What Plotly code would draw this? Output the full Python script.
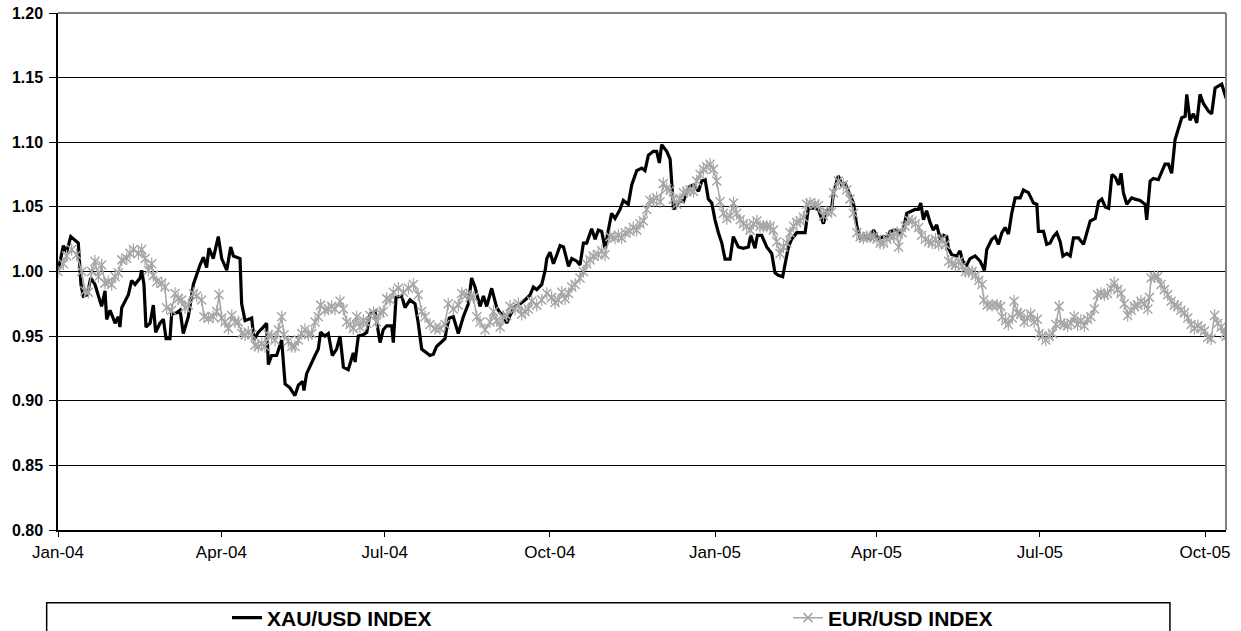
import pandas as pd
import plotly.graph_objects as go

# ---- data (day offsets from 2004-01-01, index values) ----
START = "2004-01-01"
x_range_end = "2005-10-12 16:00"

xau_days = [0, 3.0, 4.8, 7.1, 11.3, 12.8, 14.1, 16.3, 18.2, 20.6, 24.3, 26.2, 27.1, 29.0, 31.8, 33.6, 34.5, 35.5,
            39.2, 41.0, 42.9, 45.7, 46.6, 47.9, 49.0, 51.3, 53.1, 54.4, 56.8, 58.7, 60.2, 62.4, 63.3, 66.1, 68.0,
            69.8, 72.6, 75.4, 79.1, 81.0, 82.8, 84.1, 86.5, 89.3, 91.2, 94.0, 96.2, 97.7, 101.4, 102.3, 104.2,
            107.9, 109.2, 111.6, 114.4, 116.2, 117.2, 119.0, 121.8, 124.6, 126.5, 129.2, 132.0, 133.9, 136.3,
            137.0, 138.5, 140.4, 143.2, 145.0, 146.3, 148.7, 150.6, 152.8, 155.2, 157.1, 159.0, 161.7, 164.5,
            165.5, 167.3, 170.1, 172.0, 173.8, 176.6, 179.4, 181.2, 183.1, 185.9, 186.8, 188.3, 191.5, 193.3,
            196.1, 198.9, 200.7, 202.6, 207.2, 209.1, 210.9, 213.7, 215.6, 216.5, 218.0, 220.2, 223.0, 225.8,
            228.6, 230.4, 232.3, 235.1, 237.0, 238.8, 241.6, 244.4, 246.3, 248.1, 250.0, 251.8, 254.6, 257.4,
            260.2, 263.0, 264.8, 266.7, 269.5, 271.4, 272.3, 274.1, 276.0, 277.9, 279.7, 281.6, 284.4, 286.2,
            289.0, 290.8, 292.7, 294.5, 297.3, 299.2, 301.0, 302.9, 304.7, 306.6, 308.4, 310.3, 313.1, 314.9,
            317.7, 319.6, 322.4, 325.2, 327.0, 328.9, 331.7, 333.5, 335.0, 336.3, 339.1, 341.0, 341.9, 342.9,
            344.7, 346.5, 348.4, 350.3, 352.1, 354.0, 356.8, 358.6, 360.5, 362.3, 364.2, 366.0, 367.9, 369.8,
            371.6, 374.4, 376.2, 379.0, 381.8, 384.6, 385.9, 388.3, 389.6, 392.0, 394.8, 397.6, 399.4, 401.3,
            403.7, 405.0, 406.9, 408.7, 411.5, 416.2, 418.0, 421.7, 423.6, 426.4, 428.2, 431.0, 432.0, 434.7,
            436.6, 438.5, 440.3, 443.1, 445.0, 446.9, 449.7, 452.5, 454.3, 457.1, 459.9, 461.8, 463.6, 466.4,
            469.1, 470.9, 472.8, 474.6, 477.4, 479.3, 480.6, 482.1, 483.9, 485.8, 487.6, 489.5, 491.3, 493.2,
            495.1, 496.0, 497.9, 500.7, 502.5, 504.0, 506.2, 508.1, 510.9, 513.7, 516.1, 517.4, 520.2, 522.1,
            523.9, 525.8, 527.6, 529.5, 531.3, 533.2, 536.0, 537.8, 540.6, 543.4, 545.3, 546.2, 549.0, 550.8,
            552.7, 554.5, 556.4, 558.3, 559.8, 562.0, 563.9, 565.7, 568.5, 571.3, 573.2, 575.0, 577.8, 579.7,
            581.5, 583.4, 585.3, 587.1, 589.0, 590.9, 592.2, 593.5, 595.4, 598.1, 600.0, 602.8, 605.6, 606.5,
            608.4, 610.2, 613.0, 614.9, 616.7, 618.6, 620.4, 622.3, 624.1, 626.0, 627.9, 628.8, 630.6, 632.5,
            634.4, 636.2, 638.1, 640.9, 642.7, 644.6, 648.3, 650.2, 650.7]
xau_vals = [1.000, 1.020, 1.015, 1.027, 1.022, 0.990, 0.981, 0.982, 0.995, 0.990, 0.973, 0.985, 0.963, 0.970,
            0.960, 0.965, 0.957, 0.972, 0.982, 0.993, 0.990, 0.995, 1.001, 0.990, 0.957, 0.960, 0.974, 0.953,
            0.960, 0.963, 0.948, 0.948, 0.967, 0.968, 0.970, 0.952, 0.965, 0.990, 1.005, 1.011, 1.003, 1.018,
            1.010, 1.027, 1.010, 1.001, 1.019, 1.012, 1.010, 0.975, 0.962, 0.964, 0.947, 0.953, 0.957, 0.960,
            0.928, 0.935, 0.935, 0.947, 0.913, 0.910, 0.904, 0.912, 0.915, 0.908, 0.921, 0.927, 0.935, 0.940,
            0.953, 0.950, 0.952, 0.935, 0.940, 0.950, 0.926, 0.924, 0.937, 0.930, 0.950, 0.951, 0.953, 0.967,
            0.969, 0.945, 0.955, 0.958, 0.958, 0.945, 0.980, 0.981, 0.972, 0.978, 0.975, 0.960, 0.940, 0.935,
            0.936, 0.942, 0.946, 0.948, 0.956, 0.964, 0.965, 0.952, 0.965, 0.975, 0.995, 0.988, 0.973, 0.981,
            0.973, 0.987, 0.972, 0.968, 0.966, 0.960, 0.966, 0.973, 0.975, 0.978, 0.982, 0.988, 0.986, 0.990,
            1.001, 1.010, 1.015, 1.006, 1.013, 1.020, 1.019, 1.004, 1.010, 1.008, 1.005, 1.022, 1.022, 1.033,
            1.025, 1.032, 1.031, 1.018, 1.032, 1.045, 1.041, 1.048, 1.055, 1.052, 1.067, 1.078, 1.080, 1.078,
            1.090, 1.093, 1.093, 1.084, 1.098, 1.093, 1.087, 1.066, 1.048, 1.052, 1.055, 1.054, 1.062, 1.066,
            1.067, 1.062, 1.070, 1.071, 1.056, 1.053, 1.040, 1.030, 1.022, 1.0095, 1.0095, 1.027, 1.019, 1.018,
            1.019, 1.028, 1.018, 1.028, 1.028, 1.019, 1.014, 0.999, 0.997, 0.996, 1.006, 1.019, 1.025, 1.030,
            1.030, 1.049, 1.049, 1.048, 1.037, 1.047, 1.049, 1.061, 1.074, 1.067, 1.068, 1.062, 1.053, 1.035,
            1.026, 1.027, 1.025, 1.032, 1.025, 1.027, 1.026, 1.031, 1.032, 1.030, 1.032, 1.045, 1.046, 1.048,
            1.048, 1.053, 1.040, 1.047, 1.038, 1.032, 1.036, 1.026, 1.028, 1.027, 1.018, 1.013, 1.012, 1.016,
            1.008, 1.005, 1.010, 1.012, 1.008, 1.001, 1.017, 1.025, 1.027, 1.021, 1.030, 1.034, 1.029, 1.045,
            1.057, 1.057, 1.063, 1.061, 1.053, 1.052, 1.031, 1.031, 1.021, 1.022, 1.027, 1.030, 1.023, 1.012,
            1.014, 1.012, 1.026, 1.026, 1.021, 1.031, 1.039, 1.041, 1.054, 1.056, 1.050, 1.049, 1.075, 1.073,
            1.067, 1.076, 1.061, 1.052, 1.057, 1.056, 1.055, 1.052, 1.040, 1.070, 1.072, 1.071, 1.078, 1.083,
            1.083, 1.076, 1.102, 1.111, 1.119, 1.120, 1.137, 1.117, 1.122, 1.115, 1.137, 1.130, 1.124, 1.122,
            1.142, 1.145, 1.135, 1.134]

eur_days = [0, 3.0, 4.8, 7.6, 10.4, 13.2, 15.0, 16.9, 18.8, 20.6, 22.5, 24.3, 26.2, 28.0, 29.9, 31.8, 33.6, 35.5,
            38.3, 40.1, 42.0, 44.8, 46.6, 48.5, 50.3, 52.2, 53.1, 55.0, 57.8, 59.6, 60.5, 63.3, 65.2, 67.0, 68.9,
            70.8, 72.6, 75.4, 77.3, 80.0, 81.3, 83.8, 86.5, 88.4, 89.7, 91.2, 93.0, 94.9, 96.8, 98.6, 100.5,
            102.3, 104.2, 106.0, 107.9, 109.7, 111.6, 113.5, 115.3, 117.2, 119.0, 120.9, 122.7, 124.6, 125.9,
            128.3, 130.2, 132.0, 133.9, 135.7, 137.6, 139.5, 141.3, 143.2, 145.0, 146.3, 148.7, 150.6, 152.5,
            154.3, 157.1, 159.0, 160.8, 162.7, 164.5, 166.4, 168.2, 170.1, 172.0, 173.8, 175.7, 177.5, 179.4,
            181.2, 183.1, 185.0, 186.8, 189.6, 192.4, 195.2, 198.0, 200.7, 202.6, 204.5, 207.2, 210.0, 212.8,
            215.6, 217.4, 220.2, 223.0, 224.9, 227.7, 229.5, 231.4, 233.3, 235.1, 237.9, 240.7, 242.6, 244.4,
            246.3, 248.1, 250.0, 251.8, 254.6, 256.5, 258.3, 260.2, 262.0, 263.9, 266.7, 269.5, 272.3, 275.0,
            276.9, 278.8, 280.6, 282.5, 284.4, 286.2, 288.1, 290.8, 292.7, 294.5, 296.4, 298.2, 301.0, 302.9,
            304.7, 307.5, 310.3, 312.2, 314.0, 315.9, 318.7, 320.5, 322.4, 324.2, 326.1, 328.0, 329.8, 331.7,
            333.5, 335.4, 337.2, 339.1, 341.0, 342.8, 344.7, 346.5, 348.4, 350.3, 352.1, 354.0, 355.8, 357.7,
            359.6, 361.4, 363.3, 365.1, 367.0, 368.8, 370.7, 372.6, 374.4, 376.3, 378.1, 380.0, 381.8, 383.7,
            385.5, 387.4, 389.3, 391.1, 393.0, 394.8, 396.7, 398.5, 400.4, 402.2, 404.1, 406.0, 407.8, 409.7,
            411.5, 413.4, 415.2, 417.1, 418.9, 421.7, 423.6, 426.4, 428.2, 431.0, 432.0, 434.7, 437.5, 439.4,
            441.2, 443.1, 445.0, 446.9, 448.7, 450.6, 452.5, 454.3, 456.2, 458.0, 459.9, 461.8, 463.6, 465.5,
            467.4, 468.3, 470.2, 472.0, 473.9, 475.8, 477.6, 479.5, 481.1, 483.2, 485.0, 486.9, 488.8, 490.6,
            492.5, 494.3, 496.2, 498.1, 499.9, 501.8, 503.6, 505.5, 507.3, 509.2, 511.1, 512.9, 514.8, 515.7,
            517.6, 520.4, 523.2, 525.1, 526.0, 527.9, 529.4, 531.6, 532.6, 534.4, 536.3, 538.2, 540.0, 541.9,
            543.8, 545.6, 546.6, 548.4, 550.3, 552.1, 554.0, 555.9, 557.7, 558.7, 560.5, 562.4, 564.3, 566.1,
            568.0, 569.8, 571.7, 573.6, 575.4, 577.3, 579.1, 581.0, 582.9, 584.7, 586.6, 588.4, 590.3, 592.2,
            594.0, 595.9, 597.8, 599.6, 601.5, 603.3, 605.2, 607.1, 608.0, 608.9, 610.8, 612.6, 614.5, 616.3,
            618.2, 620.1, 621.9, 623.8, 625.6, 627.5, 629.4, 631.2, 633.1, 635.0, 636.8, 638.7, 640.5, 642.4,
            644.3, 646.1, 648.0, 649.9, 650.7]
eur_vals = [1.000, 1.006, 1.012, 1.017, 1.013, 1.000, 0.985, 0.984, 1.000, 1.008, 0.996, 1.005, 0.991, 0.992,
            0.990, 0.996, 0.999, 1.009, 1.010, 1.014, 1.017, 1.014, 1.017, 1.010, 1.001, 1.006, 0.997, 0.992,
            0.991, 0.988, 0.972, 0.970, 0.983, 0.979, 0.978, 0.972, 0.974, 0.983, 0.981, 0.978, 0.965, 0.964,
            0.965, 0.969, 0.982, 0.964, 0.961, 0.956, 0.966, 0.961, 0.961, 0.952, 0.951, 0.953, 0.951, 0.943,
            0.942, 0.944, 0.942, 0.951, 0.950, 0.947, 0.955, 0.965, 0.951, 0.946, 0.942, 0.942, 0.947, 0.952,
            0.955, 0.951, 0.952, 0.961, 0.965, 0.974, 0.970, 0.971, 0.973, 0.971, 0.977, 0.971, 0.961, 0.959,
            0.956, 0.965, 0.957, 0.962, 0.960, 0.966, 0.968, 0.961, 0.968, 0.969, 0.979, 0.978, 0.984, 0.987,
            0.984, 0.987, 0.990, 0.982, 0.969, 0.965, 0.959, 0.956, 0.956, 0.959, 0.975, 0.971, 0.974, 0.983,
            0.982, 0.980, 0.980, 0.965, 0.961, 0.955, 0.961, 0.969, 0.962, 0.957, 0.965, 0.966, 0.973, 0.971,
            0.975, 0.967, 0.969, 0.971, 0.977, 0.974, 0.978, 0.983, 0.980, 0.976, 0.978, 0.984, 0.979, 0.983,
            0.988, 0.990, 0.995, 1.000, 1.006, 1.009, 1.012, 1.013, 1.016, 1.013, 1.027, 1.026, 1.028, 1.026,
            1.030, 1.031, 1.034, 1.032, 1.037, 1.039, 1.048, 1.055, 1.055, 1.057, 1.054, 1.068, 1.064, 1.063,
            1.056, 1.052, 1.056, 1.061, 1.062, 1.063, 1.062, 1.070, 1.075, 1.079, 1.081, 1.083, 1.079, 1.070,
            1.054, 1.045, 1.041, 1.043, 1.053, 1.045, 1.040, 1.037, 1.035, 1.032, 1.037, 1.039, 1.035, 1.035,
            1.035, 1.035, 1.032, 1.023, 1.014, 1.019, 1.022, 1.030, 1.035, 1.038, 1.039, 1.042, 1.052, 1.053,
            1.052, 1.051, 1.043, 1.046, 1.046, 1.061, 1.070, 1.067, 1.063, 1.056, 1.045, 1.030, 1.027, 1.026,
            1.027, 1.027, 1.027, 1.025, 1.022, 1.022, 1.025, 1.027, 1.027, 1.030, 1.019, 1.030, 1.035, 1.040,
            1.039, 1.037, 1.034, 1.028, 1.025, 1.023, 1.022, 1.025, 1.021, 1.025, 1.021, 1.008, 1.006, 1.005,
            1.008, 1.004, 1.000, 1.000, 1.000, 0.997, 0.993, 0.990, 0.978, 0.974, 0.974, 0.974, 0.973, 0.965,
            0.962, 0.959, 0.964, 0.977, 0.968, 0.967, 0.961, 0.964, 0.967, 0.961, 0.963, 0.952, 0.950, 0.947,
            0.950, 0.952, 0.959, 0.973, 0.960, 0.959, 0.958, 0.960, 0.965, 0.959, 0.962, 0.958, 0.963, 0.965,
            0.971, 0.982, 0.983, 0.982, 0.983, 0.987, 0.991, 0.986, 0.983, 0.975, 0.966, 0.970, 0.973, 0.974,
            0.977, 0.975, 0.971, 0.980, 0.995, 0.996, 0.996, 0.990, 0.986, 0.982, 0.977, 0.974, 0.973, 0.970,
            0.968, 0.964, 0.959, 0.956, 0.958, 0.956, 0.954, 0.949, 0.948, 0.966, 0.960, 0.957, 0.952, 0.950]

series_names = ["XAU/USD INDEX", "EUR/USD INDEX"]
y_ticks = [0.80, 0.85, 0.90, 0.95, 1.00, 1.05, 1.10, 1.15, 1.20]

start = pd.Timestamp(START)
xau_dates = start + pd.to_timedelta(xau_days, unit="D")
eur_dates = start + pd.to_timedelta(eur_days, unit="D")

FONT = "Liberation Sans, Arial, sans-serif"
GRAY = "#A6A6A6"

fig = go.Figure()
fig.add_trace(go.Scatter(
    x=xau_dates, y=xau_vals, name=series_names[0], mode="lines",
    line=dict(color="black", width=3.2), legend="legend",
))
fig.add_trace(go.Scatter(
    x=eur_dates, y=eur_vals, name=series_names[1], mode="lines+markers",
    line=dict(color=GRAY, width=1.5),
    marker=dict(symbol="x-thin-open", size=9, color=GRAY, line=dict(color=GRAY, width=1.5)),
    legend="legend2",
))
# vertical stroke of the Excel "star" marker, same points
fig.add_trace(go.Scatter(
    x=eur_dates, y=eur_vals, mode="markers", showlegend=False, hoverinfo="skip",
    marker=dict(symbol="line-ns-open", size=9, color=GRAY, line=dict(color=GRAY, width=1.2)),
))

fig.update_layout(
    width=1241, height=631,
    margin=dict(l=58, r=15, t=13, b=101, autoexpand=False),
    paper_bgcolor="white", plot_bgcolor="white",
    font=dict(family=FONT, color="black"),
    xaxis=dict(
        type="date", range=[START, x_range_end], automargin=False,
        tick0=START, dtick="M3", tickformat="%b-%y",
        showgrid=False, zeroline=False,
        showline=True, linecolor="black", linewidth=1.5,
        ticks="outside", ticklen=5, tickwidth=1, tickcolor="black",
        tickfont=dict(family=FONT, size=17, color="black"),
        ticklabelstandoff=1,
    ),
    yaxis=dict(
        range=[0.80, 1.20], tickvals=y_ticks, tickformat=".2f", automargin=False,
        showgrid=True, gridcolor="black", gridwidth=1, zeroline=False,
        showline=True, linecolor="black", linewidth=1.5,
        ticks="outside", ticklen=7, tickwidth=1, tickcolor="black",
        tickfont=dict(family=FONT, size=16, color="black", weight="bold"),
        ticklabelstandoff=3,
    ),
    legend=dict(
        orientation="h", x=0.1447, xanchor="left", y=-0.1702, yanchor="middle",
        bgcolor="rgba(0,0,0,0)", borderwidth=0,
        font=dict(family=FONT, size=21, color="black", weight="bold"),
    ),
    legend2=dict(
        orientation="h", x=0.625, xanchor="left", y=-0.1702, yanchor="middle",
        bgcolor="rgba(0,0,0,0)", borderwidth=0,
        font=dict(family=FONT, size=21, color="black", weight="bold"),
    ),
    shapes=[
        dict(type="line", xref="paper", yref="paper", x0=0, x1=1, y0=1, y1=1,
             line=dict(color="#808080", width=2), layer="above"),
        dict(type="line", xref="paper", yref="paper", x0=1, x1=1, y0=0, y1=1,
             line=dict(color="#808080", width=2), layer="above"),
        dict(type="rect", xref="paper", yref="paper", x0=-0.0097, x1=0.952, y0=-0.2128, y1=-0.1406,
             line=dict(color="black", width=1.5), fillcolor="rgba(0,0,0,0)", layer="above"),
    ],
    showlegend=True,
)

fig.write_html("out.html", config={"displayModeBar": False},
               post_script="document.body.style.margin = '0';")
